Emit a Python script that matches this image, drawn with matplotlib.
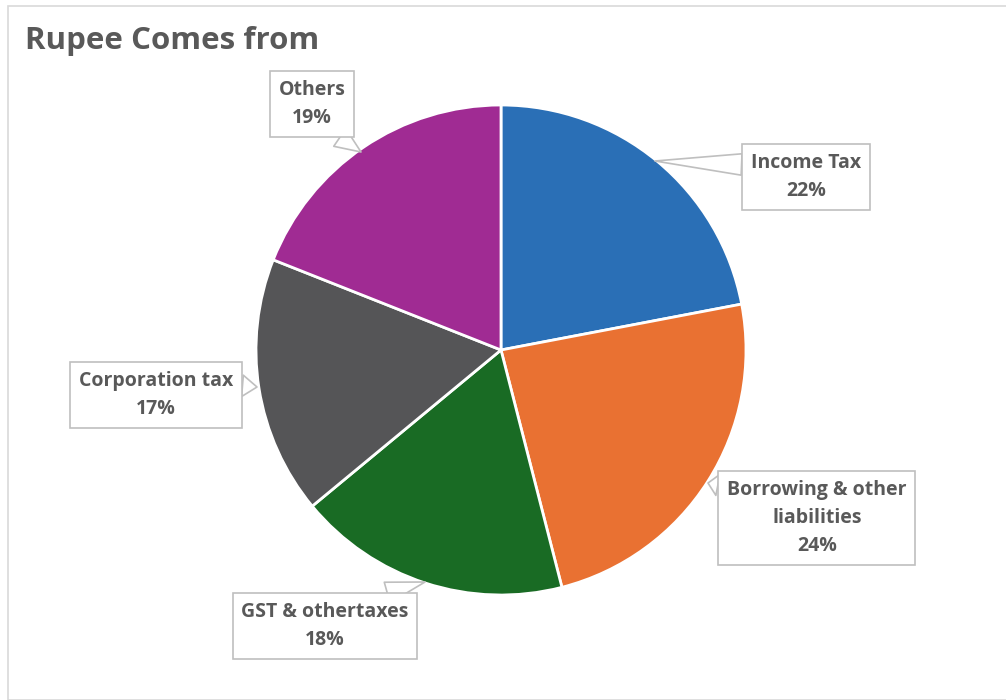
import matplotlib
matplotlib.use("Agg")
import matplotlib.pyplot as plt
from matplotlib.patches import Rectangle

title = "Rupee Comes from"
categories = ["Income Tax", "Borrowing & other\nliabilities", "GST & othertaxes", "Corporation tax", "Others"]
values = [22, 24, 18, 17, 19]
colors = ["#2a6fb6", "#e97132", "#196b24", "#555557", "#a02b93"]

W, H = 1006, 700
fig = plt.figure(figsize=(W / 100, H / 100), dpi=100)
fig.patch.set_facecolor("white")

# chart border
fig.patches.append(Rectangle((8 / W, 0), 1.2, (H - 6) / H, transform=fig.transFigure,
                             fill=False, edgecolor="#d9d9d9", linewidth=1.2))

fig.text(25 / W, 1 - 41 / H, title, fontsize=22.5, fontweight="bold", color="#595959",
         family="Open Sans", va="center", ha="left")

cx, cy, r = 501, 350, 245
half = 300
ax = fig.add_axes([(cx - half) / W, (H - cy - half) / H, 2 * half / W, 2 * half / H])
ax.axis("off")

wedges, _ = ax.pie(values, colors=colors, startangle=90, counterclock=False, radius=1,
                   wedgeprops=dict(edgecolor="white", linewidth=2))
lim = half / r
ax.set_xlim(-lim, lim)
ax.set_ylim(-lim, lim)
ax.set_aspect("equal")

# label box centers (pixel) and callout tip points (pixel), relpos of wedge base
label_pos = [(806, 177), (817, 518), (325, 626), (156, 395), (312, 104)]
tips = [(655, 161), (708, 483), (425, 582), (257, 387), (361, 152)]
relpos = [(0.02, 0.75), (0.02, 0.9), (0.66, 0.99), (0.98, 0.71), (0.69, 0.02)]

def px2data(p):
    return ((p[0] - cx) / r, (cy - p[1]) / r)

for cat, v, lp, tp, rp in zip(categories, values, label_pos, tips, relpos):
    ax.annotate(f"{cat}\n{v}%", xy=px2data(tp), xytext=px2data(lp),
                ha="center", va="center", fontsize=14, fontweight="bold",
                color="#595959", family="Open Sans", linespacing=1.55,
                bbox=dict(boxstyle="square,pad=0.45", facecolor="white",
                          edgecolor="#bfbfbf", linewidth=1.2),
                arrowprops=dict(arrowstyle="wedge,tail_width=1.1,shrink_factor=0.5",
                                facecolor="white", edgecolor="#bfbfbf", linewidth=1.2,
                                shrinkA=0, shrinkB=0, relpos=rp),
                annotation_clip=False)

fig.savefig("out.png", dpi=100)
